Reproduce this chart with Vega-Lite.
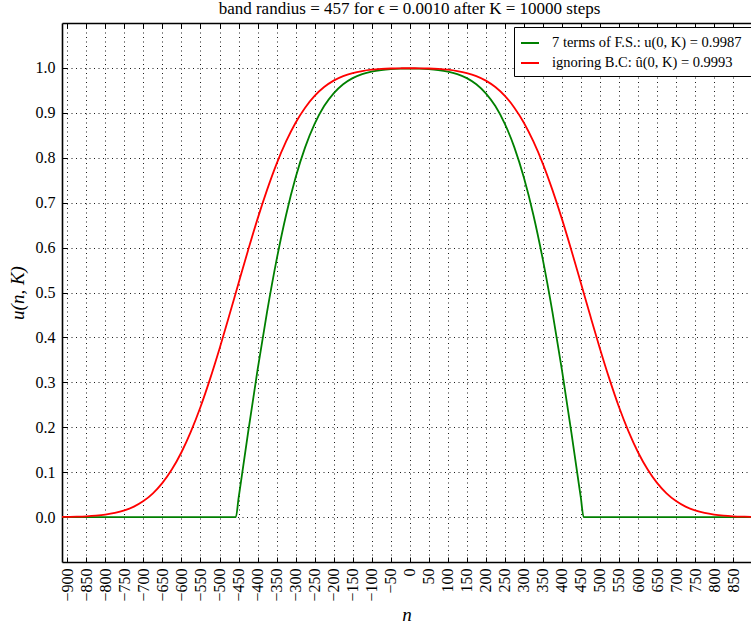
{
  "$schema": "https://vega.github.io/schema/vega-lite/v6.json",
  "width": 689,
  "height": 539,
  "autosize": "none",
  "padding": {"left": 62, "top": 23, "right": 0, "bottom": 69},
  "background": "white",
  "config": {"view": {"stroke": null}, "font": "Liberation Serif"},
  "title": {"text": "band randius = 457 for ϵ = 0.0010 after K = 10000 steps", "font": "Liberation Serif", "fontSize": 17, "fontWeight": "normal", "color": "black", "offset": 5, "dx": 3},
  "data": {"values": [
    {"s":"g","n":-914,"u":0},{"s":"g","n":-900,"u":0},{"s":"g","n":-457,"u":0},
    {"s":"g","n":-450,"u":0.0414},{"s":"g","n":-425,"u":0.1877},{"s":"g","n":-400,"u":0.3276},{"s":"g","n":-375,"u":0.4570},{"s":"g","n":-350,"u":0.5727},{"s":"g","n":-325,"u":0.6726},{"s":"g","n":-300,"u":0.7558},{"s":"g","n":-275,"u":0.8230},{"s":"g","n":-250,"u":0.8754},{"s":"g","n":-225,"u":0.9150},{"s":"g","n":-200,"u":0.9434},{"s":"g","n":-175,"u":0.9636},{"s":"g","n":-150,"u":0.9773},{"s":"g","n":-125,"u":0.9862},{"s":"g","n":-100,"u":0.9919},{"s":"g","n":-75,"u":0.9953},{"s":"g","n":-50,"u":0.9973},{"s":"g","n":-25,"u":0.9983},
    {"s":"g","n":0,"u":0.9986},
    {"s":"g","n":25,"u":0.9983},{"s":"g","n":50,"u":0.9973},{"s":"g","n":75,"u":0.9953},{"s":"g","n":100,"u":0.9919},{"s":"g","n":125,"u":0.9862},{"s":"g","n":150,"u":0.9773},{"s":"g","n":175,"u":0.9636},{"s":"g","n":200,"u":0.9434},{"s":"g","n":225,"u":0.9150},{"s":"g","n":250,"u":0.8754},{"s":"g","n":275,"u":0.8230},{"s":"g","n":300,"u":0.7558},{"s":"g","n":325,"u":0.6726},{"s":"g","n":350,"u":0.5727},{"s":"g","n":375,"u":0.4570},{"s":"g","n":400,"u":0.3276},{"s":"g","n":425,"u":0.1877},{"s":"g","n":450,"u":0.0414},
    {"s":"g","n":457,"u":0},{"s":"g","n":900,"u":0},{"s":"g","n":914,"u":0},
    {"s":"r","n":-914,"u":0.00035},{"s":"r","n":-900,"u":0.0005},{"s":"r","n":-875,"u":0.0010},{"s":"r","n":-850,"u":0.0018},{"s":"r","n":-825,"u":0.0032},{"s":"r","n":-800,"u":0.0055},{"s":"r","n":-775,"u":0.0092},{"s":"r","n":-750,"u":0.0149},{"s":"r","n":-725,"u":0.0234},{"s":"r","n":-700,"u":0.0357},{"s":"r","n":-675,"u":0.0529},{"s":"r","n":-650,"u":0.0761},{"s":"r","n":-625,"u":0.1064},{"s":"r","n":-600,"u":0.1444},{"s":"r","n":-575,"u":0.1908},{"s":"r","n":-550,"u":0.2451},{"s":"r","n":-525,"u":0.3071},{"s":"r","n":-500,"u":0.3749},{"s":"r","n":-475,"u":0.4469},{"s":"r","n":-450,"u":0.5207},{"s":"r","n":-425,"u":0.5937},{"s":"r","n":-400,"u":0.6639},{"s":"r","n":-375,"u":0.7284},{"s":"r","n":-350,"u":0.7864},{"s":"r","n":-325,"u":0.8362},{"s":"r","n":-300,"u":0.8780},{"s":"r","n":-275,"u":0.9115},{"s":"r","n":-250,"u":0.9377},{"s":"r","n":-225,"u":0.9574},{"s":"r","n":-200,"u":0.9717},{"s":"r","n":-175,"u":0.9818},{"s":"r","n":-150,"u":0.9886},{"s":"r","n":-125,"u":0.9931},{"s":"r","n":-100,"u":0.9960},{"s":"r","n":-75,"u":0.9977},{"s":"r","n":-50,"u":0.9987},{"s":"r","n":-25,"u":0.9992},
    {"s":"r","n":0,"u":0.9993},
    {"s":"r","n":25,"u":0.9992},{"s":"r","n":50,"u":0.9987},{"s":"r","n":75,"u":0.9977},{"s":"r","n":100,"u":0.9960},{"s":"r","n":125,"u":0.9931},{"s":"r","n":150,"u":0.9886},{"s":"r","n":175,"u":0.9818},{"s":"r","n":200,"u":0.9717},{"s":"r","n":225,"u":0.9574},{"s":"r","n":250,"u":0.9377},{"s":"r","n":275,"u":0.9115},{"s":"r","n":300,"u":0.8780},{"s":"r","n":325,"u":0.8362},{"s":"r","n":350,"u":0.7864},{"s":"r","n":375,"u":0.7284},{"s":"r","n":400,"u":0.6639},{"s":"r","n":425,"u":0.5937},{"s":"r","n":450,"u":0.5207},{"s":"r","n":475,"u":0.4469},{"s":"r","n":500,"u":0.3749},{"s":"r","n":525,"u":0.3071},{"s":"r","n":550,"u":0.2451},{"s":"r","n":575,"u":0.1908},{"s":"r","n":600,"u":0.1444},{"s":"r","n":625,"u":0.1064},{"s":"r","n":650,"u":0.0761},{"s":"r","n":675,"u":0.0529},{"s":"r","n":700,"u":0.0357},{"s":"r","n":725,"u":0.0234},{"s":"r","n":750,"u":0.0149},{"s":"r","n":775,"u":0.0092},{"s":"r","n":800,"u":0.0055},{"s":"r","n":825,"u":0.0032},{"s":"r","n":850,"u":0.0018},{"s":"r","n":875,"u":0.0010},{"s":"r","n":900,"u":0.0005},{"s":"r","n":914,"u":0.00035}
  ]},
  "layer": [
    {
      "mark": {"type": "line", "strokeWidth": 1.8, "clip": true, "interpolate": "monotone"},
      "encoding": {
        "x": {"field": "n", "type": "quantitative",
          "scale": {"domain": [-914, 897], "nice": false, "zero": false},
          "axis": {"orient": "bottom", "values": [-900,-850,-800,-750,-700,-650,-600,-550,-500,-450,-400,-350,-300,-250,-200,-150,-100,-50,0,50,100,150,200,250,300,350,400,450,500,550,600,650,700,750,800,850],
            "format": "d", "labelAngle": 270, "labelAlign": "right", "labelBaseline": "middle", "labelFont": "Liberation Serif", "labelFontSize": 16, "labelColor": "black", "labelPadding": 11, "labelFlush": false, "labelOverlap": false,
            "tickSize": -5, "tickColor": "black", "tickWidth": 1,
            "grid": true, "gridColor": "black", "gridDash": [1, 3.5], "gridWidth": 0.9,
            "domainColor": "black", "domainWidth": 1.6,
            "title": "n", "titleFont": "Liberation Serif", "titleFontStyle": "italic", "titleFontWeight": "normal", "titleFontSize": 19, "titleColor": "black", "titlePadding": 4}},
        "y": {"field": "u", "type": "quantitative",
          "scale": {"domain": [-0.1, 1.1], "nice": false, "zero": false},
          "axis": {"orient": "left", "values": [0,0.1,0.2,0.3,0.4,0.5,0.6,0.7,0.8,0.9,1.0],
            "format": ".1f", "labelFont": "Liberation Serif", "labelFontSize": 16, "labelColor": "black", "labelPadding": 12, "labelFlush": false,
            "tickSize": -5, "tickColor": "black", "tickWidth": 1,
            "grid": true, "gridColor": "black", "gridDash": [1, 3.5], "gridWidth": 0.9,
            "domainColor": "black", "domainWidth": 1.6,
            "title": "u(n, K)", "titleFont": "Liberation Serif", "titleFontStyle": "italic", "titleFontWeight": "normal", "titleFontSize": 19, "titleColor": "black", "titlePadding": 8}},
        "color": {"field": "s", "type": "nominal",
          "scale": {"domain": ["g", "r"], "range": ["#008000", "#ff0000"]},
          "legend": {"orient": "none", "legendX": 452, "legendY": 4, "title": null, "direction": "vertical",
            "labelExpr": "datum.value == 'g' ? '7 terms of F.S.:  u(0, K) = 0.9987' : 'ignoring B.C: û(0, K) = 0.9993'",
            "symbolType": "stroke", "symbolSize": 324, "symbolStrokeWidth": 2,
            "labelFont": "Liberation Serif", "labelFontSize": 14.5, "labelColor": "black", "labelOffset": 12, "labelLimit": 400,
            "padding": 6, "rowPadding": 3, "strokeColor": "black", "fillColor": "white", "cornerRadius": 0}}
      }
    },
    {
      "mark": {"type": "line", "strokeOpacity": 0, "clip": true},
      "encoding": {
        "x": {"field": "n", "type": "quantitative",
          "axis": {"orient": "top", "values": [-900,-850,-800,-750,-700,-650,-600,-550,-500,-450,-400,-350,-300,-250,-200,-150,-100,-50,0,50,100,150,200,250,300,350,400,450,500,550,600,650,700,750,800,850],
            "labels": false, "tickSize": -5, "tickColor": "black", "tickWidth": 1, "grid": false,
            "domainColor": "black", "domainWidth": 1.6, "title": null}},
        "y": {"field": "u", "type": "quantitative", "axis": null},
        "detail": {"field": "s"}
      }
    }
  ],
  "resolve": {"axis": {"x": "independent", "y": "independent"}}
}
